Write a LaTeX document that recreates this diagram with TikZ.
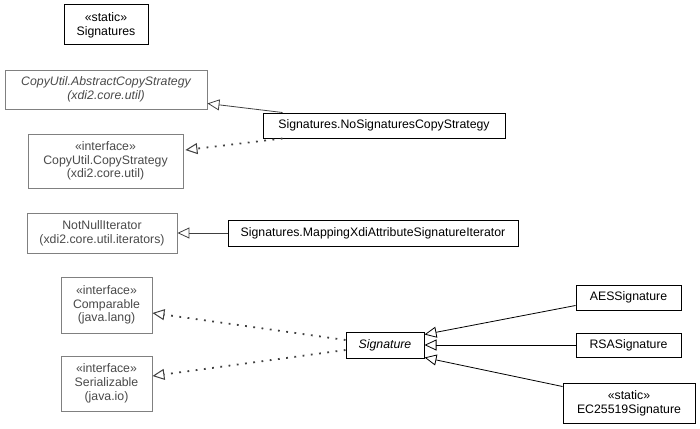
\documentclass[tikz,border=0pt]{standalone}
\usepackage{fontspec}
\setmainfont{Liberation Sans}
\usepackage{xcolor}
\usepackage{tikz}
\usetikzlibrary{calc}
\usetikzlibrary{arrows.meta}
\definecolor{boxgray}{HTML}{808080}
\definecolor{textgray}{HTML}{4A4A4A}
\definecolor{linegray}{HTML}{404040}

\begin{document}
\begin{tikzpicture}[x=1pt,y=-1pt,
	font=\fontsize{12.3}{13.8}\selectfont,
	cls/.style={draw=black,line width=1pt,inner sep=0pt,align=center,fill=white},
	ext/.style={draw=boxgray,line width=0.9pt,inner sep=0pt,align=center,text=textgray,fill=white},
	inherit/.style={-{Triangle[open,length=12pt,width=11pt]},line width=0.8pt},
	realize/.style={-{Triangle[open,length=12pt,width=11pt,line width=1pt]},line width=1.8pt,dash pattern=on 1.8pt off 6.5pt,color=linegray}]
	\useasboundingbox (0,0) rectangle (700,428);
	\node[cls,minimum width=84pt,minimum height=40pt] (signatures) at (106,25) {«static»\\Signatures};
	\node[ext,minimum width=202pt,minimum height=39pt] (abstractcopy) at (106,89.5) {\itshape CopyUtil.AbstractCopyStrategy\\\itshape (xdi2.core.util)};
	\node[ext,minimum width=155pt,minimum height=54pt] (copystrategy) at (105.5,161) {«interface»\\CopyUtil.CopyStrategy\\(xdi2.core.util)};
	\node[cls,minimum width=242pt,minimum height=25pt] (nosigcopy) at (384,125.5) {Signatures.NoSignaturesCopyStrategy};
	\node[ext,minimum width=150pt,minimum height=40pt] (notnull) at (102,233) {NotNullIterator\\(xdi2.core.util.iterators)};
	\node[cls,minimum width=290pt,minimum height=26pt] (mapping) at (373,233) {Signatures.MappingXdiAttributeSignatureIterator};
	\node[ext,minimum width=91pt,minimum height=56pt] (comparable) at (106.5,305) {«interface»\\Comparable\\(java.lang)};
	\node[ext,minimum width=91pt,minimum height=55pt] (serializable) at (106.5,383.5) {«interface»\\Serializable\\(java.io)};
	\node[cls,minimum width=78pt,minimum height=26pt] (signature) at (385,345) {\itshape Signature};
	\node[cls,minimum width=105pt,minimum height=25pt] (aes) at (628.5,297.5) {AESSignature};
	\node[cls,minimum width=105pt,minimum height=24pt] (rsa) at (628.5,345) {RSASignature};
	\node[cls,minimum width=132pt,minimum height=40pt] (ec) at (629,403) {«static»\\EC25519Signature};
	% generalizations
	\draw[inherit,linegray] ($(nosigcopy.north west)+(20,0)$) -- ($(abstractcopy.south east)+(0,-6)$);
	\draw[inherit,linegray] (mapping.west) -- (notnull.east);
	\draw[inherit] ($(aes.south west)+(0,-5)$) -- ($(signature.north east)+(0,3)$);
	\draw[inherit] (rsa.west) -- (signature.east);
	\draw[inherit] ($(ec.north west)+(0,4)$) -- ($(signature.south east)+(0,-1)$);
	% realizations
	\draw[realize] ($(nosigcopy.south west)+(20,0)$) -- ($(copystrategy.east)+(2,-11)$);
	\draw[realize] ($(signature.west)+(0,-5)$) -- ($(comparable.east)+(0,8)$);
	\draw[realize] ($(signature.west)+(0,5)$) -- ($(serializable.east)+(0,-7.5)$);
\end{tikzpicture}
\end{document}
